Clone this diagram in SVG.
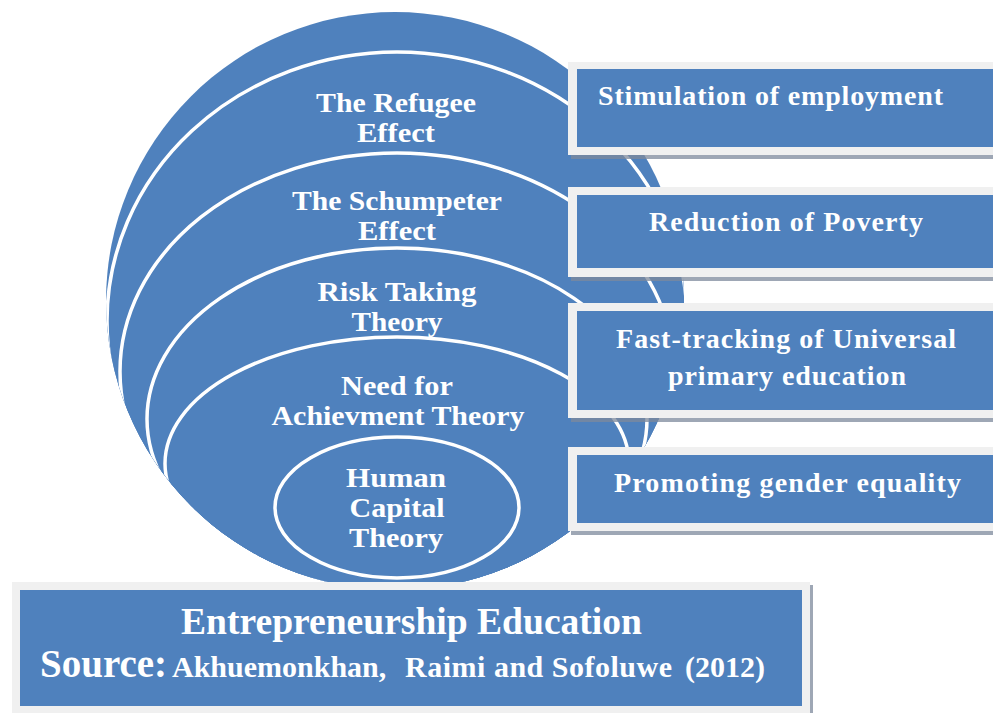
<svg xmlns="http://www.w3.org/2000/svg" width="993" height="713" viewBox="0 0 993 713">
  <style>
    .blue { fill: #4F81BD; }
    .ring { fill: #4F81BD; stroke: #FFFFFF; stroke-width: 3.5; }
    .frame { fill: #F0F0F0; }
    .shadow { fill: #7D8A9C; opacity: 0.75; }
    .lbl { font-family: "Liberation Serif", "Times New Roman", serif; font-weight: bold; fill: #FFFFFF; }
    .ell { font-size: 27px; text-anchor: middle; }
    .box { font-size: 28px; }
  </style>
  <defs>
    <clipPath id="outerClip">
      <circle cx="395" cy="301" r="289"/>
    </clipPath>
  </defs>

  <g id="target">
    <circle class="blue" cx="395" cy="301" r="289"/>
    <g clip-path="url(#outerClip)">
      <g id="refugee-effect">
        <ellipse class="ring" cx="397" cy="321" rx="290" ry="269"/>
      </g>
      <g id="schumpeter-effect">
        <ellipse class="ring" cx="397" cy="371.5" rx="277" ry="218.5"/>
      </g>
      <g id="risk-taking">
        <ellipse class="ring" cx="397" cy="419" rx="250" ry="171"/>
      </g>
      <g id="need-achievement">
        <ellipse class="ring" cx="397" cy="463.5" rx="232" ry="126.5"/>
      </g>
      <g id="human-capital">
        <ellipse class="ring" cx="397" cy="507.5" rx="122" ry="70.5"/>
      </g>
    </g>
    <g id="ellipse-labels" class="lbl ell">
      <text x="396" y="112" textLength="160" lengthAdjust="spacingAndGlyphs">The Refugee</text>
      <text x="396" y="142" textLength="78" lengthAdjust="spacingAndGlyphs">Effect</text>
      <text x="397" y="210" textLength="210" lengthAdjust="spacingAndGlyphs">The Schumpeter</text>
      <text x="397" y="240" textLength="78" lengthAdjust="spacingAndGlyphs">Effect</text>
      <text x="397" y="301" textLength="159" lengthAdjust="spacingAndGlyphs">Risk Taking</text>
      <text x="397" y="331" textLength="91" lengthAdjust="spacingAndGlyphs">Theory</text>
      <text x="397" y="395" textLength="112" lengthAdjust="spacingAndGlyphs">Need for</text>
      <text x="398" y="425" textLength="253" lengthAdjust="spacingAndGlyphs">Achievment Theory</text>
      <text x="396" y="487" textLength="100" lengthAdjust="spacingAndGlyphs">Human</text>
      <text x="397" y="517" textLength="95" lengthAdjust="spacingAndGlyphs">Capital</text>
      <text x="396" y="547" textLength="94" lengthAdjust="spacingAndGlyphs">Theory</text>
    </g>
  </g>

  <g id="box-employment">
    <rect class="shadow" x="571" y="66" width="430" height="93"/>
    <rect class="frame" x="568" y="62" width="430" height="93"/>
    <rect class="blue" x="577" y="69" width="420" height="78"/>
    <text class="lbl box" x="598" y="105" textLength="345">Stimulation of employment</text>
  </g>

  <g id="box-poverty">
    <rect class="shadow" x="571" y="191" width="430" height="90"/>
    <rect class="frame" x="568" y="187" width="430" height="90"/>
    <rect class="blue" x="577" y="195" width="420" height="73"/>
    <text class="lbl box" x="649" y="231" textLength="274">Reduction of Poverty</text>
  </g>

  <g id="box-education">
    <rect class="shadow" x="571" y="307" width="430" height="115"/>
    <rect class="frame" x="568" y="303" width="430" height="115"/>
    <rect class="blue" x="577" y="311" width="420" height="99"/>
    <text class="lbl box" x="616" y="348" textLength="340">Fast-tracking of Universal</text>
    <text class="lbl box" x="668" y="385" textLength="238">primary education</text>
  </g>

  <g id="box-gender">
    <rect class="shadow" x="571" y="451" width="430" height="84"/>
    <rect class="frame" x="568" y="447" width="430" height="84"/>
    <rect class="blue" x="577" y="455" width="420" height="68"/>
    <text class="lbl box" x="614" y="492" textLength="347">Promoting gender equality</text>
  </g>

  <g id="box-entrepreneurship">
    <rect class="shadow" x="15" y="585" width="798" height="131"/>
    <rect class="frame" x="12" y="582" width="798" height="131"/>
    <rect class="blue" x="20" y="590" width="782" height="116"/>
    <text class="lbl" x="181" y="634" font-size="38" textLength="461" lengthAdjust="spacingAndGlyphs">Entrepreneurship Education</text>
    <text class="lbl" y="677" font-size="30"><tspan x="40" font-size="39">Source:</tspan><tspan x="172">Akhuemonkhan,</tspan><tspan x="405" textLength="267">Raimi and Sofoluwe</tspan><tspan x="685">(2012)</tspan></text>
  </g>
</svg>
